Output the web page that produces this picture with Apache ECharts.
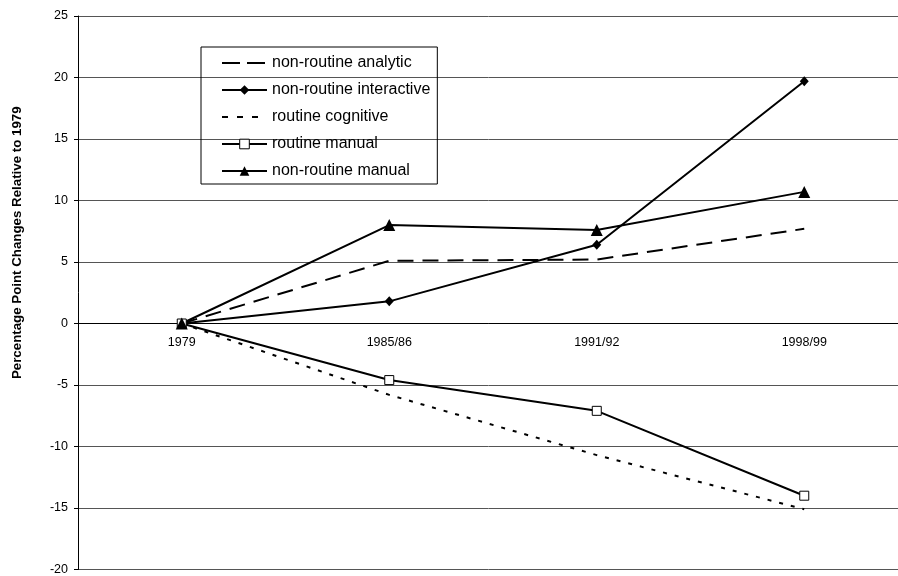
<!DOCTYPE html>
<html><head><meta charset="utf-8">
<script src="https://cdn.jsdelivr.net/npm/echarts@6/dist/echarts.min.js"></script>
<style>html,body{margin:0;padding:0;background:#fff}#c{width:898px;height:576px}</style>
</head><body><div id="c"></div>
<script>
const categories = ['1979', '1985/86', '1991/92', '1998/99'];
const nonRoutineAnalytic = [0, 5.1, 5.2, 7.7];
const nonRoutineInteractive = [0, 1.8, 6.4, 19.7];
const routineCognitive = [0, -5.8, -10.7, -15.1];
const routineManual = [0, -4.6, -7.1, -14.0];
const nonRoutineManual = [0, 8.0, 7.6, 10.7];

const yMin = -20, yMax = 25;
const gridHeight = 553.5;
const font = 'Liberation Sans, Arial, sans-serif';
const chart = echarts.init(document.getElementById('c'));
chart.setOption({
  animation: false,
  textStyle: { fontFamily: font },
  grid: { left: 78, top: 16, width: 830, height: gridHeight, outerBoundsMode: 'none', containLabel: false },
  legend: {
    orient: 'vertical', left: 201, top: 47,
    padding: [8, 7, 5, 20],
    borderColor: '#000', borderWidth: 1,
    itemWidth: 45, itemHeight: 12, itemGap: 11,
    textStyle: { fontFamily: font, fontSize: 16, color: '#000' },
    data: [
      { name: 'non-routine analytic', itemStyle: { opacity: 0 }, lineStyle: { type: [18, 7] } },
      { name: 'non-routine interactive' },
      { name: 'routine cognitive', itemStyle: { opacity: 0 }, lineStyle: { type: [6, 9] } },
      { name: 'routine manual', itemStyle: { color: '#fff', borderColor: '#000', borderWidth: 1 } },
      { name: 'non-routine manual' }
    ]
  },
  xAxis: {
    type: 'category', data: categories, boundaryGap: true,
    position: 'bottom',
    offset: -gridHeight * (0 - yMin) / (yMax - yMin),
    axisLine: { onZero: false, lineStyle: { color: '#000', width: 1 } },
    axisTick: { inside: true, length: 5, lineStyle: { color: '#000' } },
    axisLabel: { color: '#000', fontSize: 12.5, margin: 13, fontFamily: font },
    splitLine: { show: false }
  },
  yAxis: {
    type: 'value', min: yMin, max: yMax, interval: 5,
    name: 'Percentage Point Changes Relative to 1979',
    nameLocation: 'middle', nameGap: 54,
    nameTextStyle: { fontSize: 13.3, fontWeight: 'bold', color: '#000', fontFamily: font, padding: [0, 0, 0, 100] },
    axisLine: { show: true, lineStyle: { color: '#000' } },
    axisTick: { show: true, length: 4, lineStyle: { color: '#000' } },
    axisLabel: { color: '#000', fontSize: 12.5, margin: 10, fontFamily: font },
    splitLine: { lineStyle: { color: '#555', width: 1 } }
  },
  series: [
    { name: 'non-routine analytic', type: 'line', data: nonRoutineAnalytic, symbol: 'none',
      lineStyle: { color: '#000', width: 2, type: [16, 9] }, itemStyle: { color: '#000' } },
    { name: 'non-routine interactive', type: 'line', data: nonRoutineInteractive, symbol: 'diamond', symbolSize: [9, 10],
      lineStyle: { color: '#000', width: 2 }, itemStyle: { color: '#000' } },
    { name: 'routine cognitive', type: 'line', data: routineCognitive, symbol: 'none',
      lineStyle: { color: '#000', width: 2, type: [4, 8] }, itemStyle: { color: '#000' } },
    { name: 'routine manual', type: 'line', data: routineManual, symbol: 'rect', symbolSize: 9,
      lineStyle: { color: '#000', width: 2 }, itemStyle: { color: '#fff', borderColor: '#000', borderWidth: 1 } },
    { name: 'non-routine manual', type: 'line', data: nonRoutineManual, symbol: 'triangle', symbolSize: 12,
      lineStyle: { color: '#000', width: 2 }, itemStyle: { color: '#000' } }
  ]
});
</script></body></html>
